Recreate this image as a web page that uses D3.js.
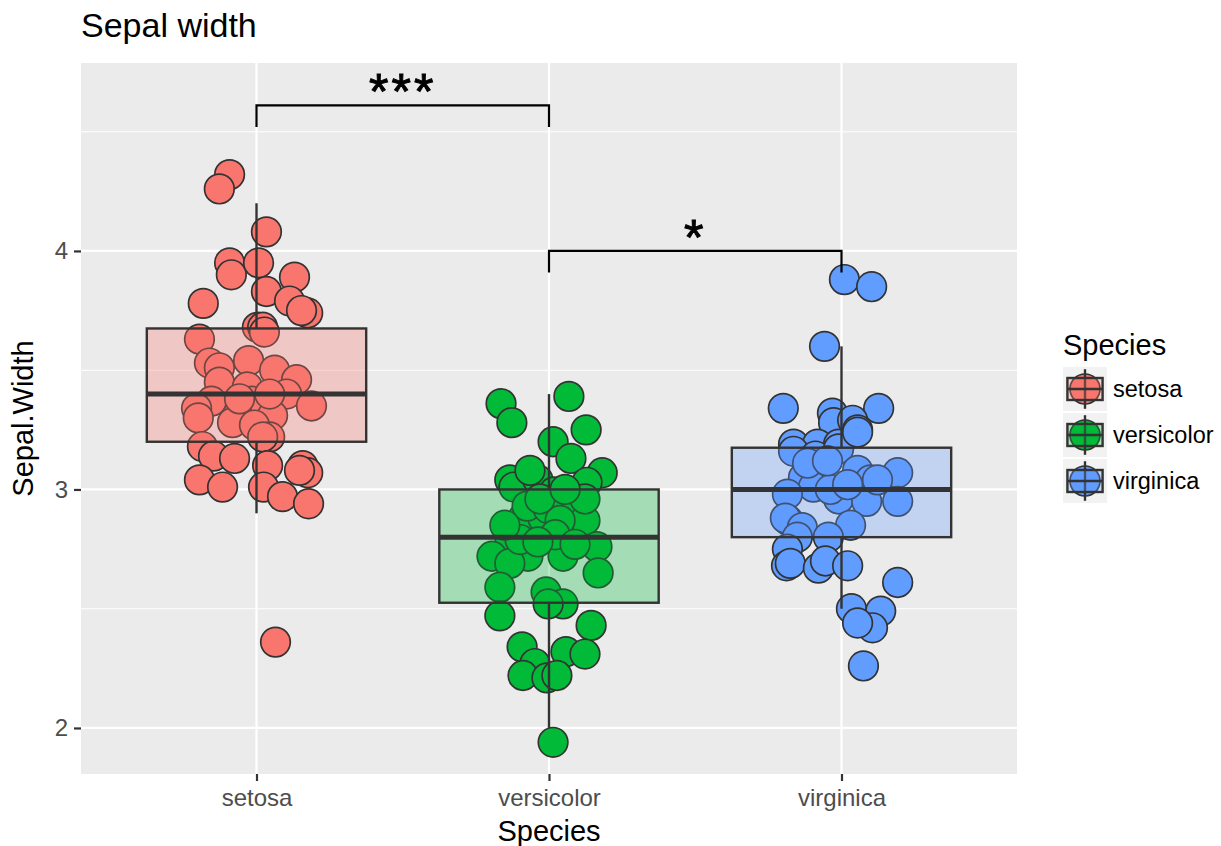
<!DOCTYPE html>
<html>
<head>
<meta charset="utf-8">
<script src="https://cdn.jsdelivr.net/npm/d3@7"></script>
<style>
  body { margin: 0; background: #fff; }
  text { font-family: "Liberation Sans", Arial, sans-serif; }
</style>
</head>
<body>
<svg id="chart" width="1221" height="846"></svg>
<script>
// categories and colours
const species = ["setosa", "versicolor", "virginica"];
const speciesColors = ["#F8766D", "#00BA38", "#619CFF"];

// jittered points: horizontal offset (in category units) and Sepal.Width
const setosaJitter = [-0.092,-0.127,0.034,-0.092,-0.086,0.007,0.130,0.034,0.113,0.175,0.154,-0.182,0.003,0.021,-0.195,0.027,-0.161,-0.127,-0.027,0.062,-0.127,-0.031,0.137,0.103,0.188,-0.154,-0.205,-0.199,-0.014,-0.065,0.055,-0.082,-0.007,0.045,0.021,-0.185,-0.147,-0.075,0.038,0.158,0.175,-0.195,-0.116,0.024,0.089,0.178,0.065,-0.058,0.045,0.147];
const setosaValues = [4.32,4.26,4.08,3.95,3.90,3.95,3.89,3.83,3.79,3.74,3.75,3.78,3.68,3.68,3.63,3.66,3.53,3.51,3.54,3.50,3.45,3.43,3.46,3.40,3.35,3.37,3.34,3.30,3.37,3.31,3.31,3.28,3.27,3.22,3.22,3.18,3.14,3.13,3.10,3.10,3.07,3.04,3.01,3.01,2.97,2.94,2.36,3.38,3.40,3.08];

const versicolorJitter = [-0.164,-0.127,0.068,0.127,0.014,0.075,0.182,-0.134,-0.120,-0.038,0.017,0.130,-0.089,-0.021,0.072,0.123,0.164,-0.134,-0.195,-0.072,0.048,-0.134,0.168,-0.168,-0.010,0.048,-0.003,-0.168,0.144,-0.092,0.058,0.123,-0.048,-0.089,-0.007,0.027,0.014,-0.075,-0.003,0.038,-0.099,0.021,-0.038,-0.151,0.089,0.123,-0.065,-0.031,0.055];
const versicolorValues = [3.36,3.28,3.39,3.25,3.20,3.13,3.07,3.04,3.01,3.04,2.99,3.03,2.88,2.88,2.92,2.87,2.76,2.80,2.72,2.72,2.72,2.69,2.65,2.59,2.57,2.52,2.52,2.47,2.43,2.34,2.32,2.31,2.27,2.22,2.21,2.22,1.94,2.93,2.92,2.87,2.79,2.81,2.78,2.85,2.77,2.96,3.08,2.96,3.00];

const virginicaJitter = [0.010,0.103,-0.058,-0.199,0.127,-0.031,-0.027,0.038,0.055,-0.164,-0.082,-0.010,-0.164,-0.089,-0.010,0.055,0.055,0.099,0.192,-0.130,-0.096,-0.185,-0.010,0.086,0.192,-0.038,-0.182,-0.192,-0.134,0.031,-0.045,-0.151,-0.185,-0.188,-0.175,-0.079,-0.055,0.021,0.192,0.034,0.134,0.106,0.055,0.075,-0.116,-0.048,0.021,0.123];
const virginicaValues = [3.88,3.85,3.60,3.34,3.34,3.32,3.28,3.29,3.25,3.19,3.19,3.19,3.16,3.14,3.17,3.24,3.08,3.04,3.07,3.05,3.01,2.98,2.96,2.95,2.95,3.00,2.87,2.88,2.84,2.85,2.80,2.80,2.75,2.68,2.69,2.67,2.70,2.68,2.61,2.50,2.49,2.42,2.44,2.26,3.11,3.12,3.02,3.04];

// boxplot statistics
const boxLower = [3.2, 2.525, 2.8];
const boxMiddle = [3.4, 2.8, 3.0];
const boxUpper = [3.675, 3.0, 3.175];
const whiskerLow = [2.9, 2.0, 2.5];
const whiskerHigh = [4.2, 3.4, 3.6];

// significance brackets
const bracketFrom = ["setosa", "versicolor"];
const bracketTo = ["versicolor", "virginica"];
const bracketY = [4.61, 4.0];
const bracketLabel = ["***", "*"];
const tipLength = 0.09;

// axis ticks
const yMajor = [2, 3, 4];
const yMinor = [2.5, 3.5, 4.5];

const svg = d3.select("#chart");
const panel = {left: 81, right: 1017, top: 63, bottom: 774};

const x = d3.scalePoint().domain(species).range([panel.left, panel.right]).padding(0.6);
const y = d3.scaleLinear().domain([1.807, 4.788]).range([panel.bottom, panel.top]);
const color = d3.scaleOrdinal().domain(species).range(speciesColors);
const step = x.step();

// panel background + grid
svg.append("rect")
	.attr("x", panel.left).attr("y", panel.top)
	.attr("width", panel.right - panel.left).attr("height", panel.bottom - panel.top)
	.attr("fill", "#ebebeb");

let grid = svg.append("g");
yMinor.forEach(function(v){
	grid.append("line").attr("x1", panel.left).attr("x2", panel.right)
		.attr("y1", y(v)).attr("y2", y(v))
		.attr("stroke", "#fff").attr("stroke-width", 1.1);
});
yMajor.forEach(function(v){
	grid.append("line").attr("x1", panel.left).attr("x2", panel.right)
		.attr("y1", y(v)).attr("y2", y(v))
		.attr("stroke", "#fff").attr("stroke-width", 2.2);
});
species.forEach(function(s){
	grid.append("line").attr("x1", x(s)).attr("x2", x(s))
		.attr("y1", panel.top).attr("y2", panel.bottom)
		.attr("stroke", "#fff").attr("stroke-width", 2.2);
});

// points
let points = [];
[[setosaJitter, setosaValues], [versicolorJitter, versicolorValues], [virginicaJitter, virginicaValues]]
	.forEach(function(pair, i){
		pair[1].forEach(function(v, j){
			points.push({species: species[i], dx: pair[0][j], value: v});
		});
	});

svg.append("g").selectAll("circle")
	.data(points)
	.join("circle")
	.attr("cx", d => x(d.species) + d.dx * step)
	.attr("cy", d => y(d.value))
	.attr("r", 14.8)
	.attr("fill", d => color(d.species))
	.attr("stroke", "#333333")
	.attr("stroke-width", 1.7);

// boxplots on top, translucent fill
let boxes = svg.append("g");
let boxW = step * 0.75;
species.forEach(function(s, i){
	let cx = x(s);
	boxes.append("line").attr("x1", cx).attr("x2", cx)
		.attr("y1", y(boxUpper[i])).attr("y2", y(whiskerHigh[i]))
		.attr("stroke", "#333333").attr("stroke-width", 2.4);
	boxes.append("line").attr("x1", cx).attr("x2", cx)
		.attr("y1", y(boxLower[i])).attr("y2", y(whiskerLow[i]))
		.attr("stroke", "#333333").attr("stroke-width", 2.4);
	boxes.append("rect")
		.attr("x", cx - boxW / 2).attr("y", y(boxUpper[i]))
		.attr("width", boxW).attr("height", y(boxLower[i]) - y(boxUpper[i]))
		.attr("fill", speciesColors[i]).attr("fill-opacity", 0.3)
		.attr("stroke", "#333333").attr("stroke-width", 2.4);
	boxes.append("line").attr("x1", cx - boxW / 2).attr("x2", cx + boxW / 2)
		.attr("y1", y(boxMiddle[i])).attr("y2", y(boxMiddle[i]))
		.attr("stroke", "#333333").attr("stroke-width", 5);
});

// brackets
let sig = svg.append("g");
bracketLabel.forEach(function(lab, i){
	let x1 = x(bracketFrom[i]), x2 = x(bracketTo[i]);
	let path = d3.path();
	path.moveTo(x1, y(bracketY[i] - tipLength));
	path.lineTo(x1, y(bracketY[i]));
	path.lineTo(x2, y(bracketY[i]));
	path.lineTo(x2, y(bracketY[i] - tipLength));
	sig.append("path").attr("d", path.toString())
		.attr("fill", "none").attr("stroke", "#000").attr("stroke-width", 2.2);
	sig.append("text").attr("x", (x1 + x2) / 2).attr("y", y(bracketY[i]) + 4)
		.attr("text-anchor", "middle").style("font-size", "50px")
		.style("letter-spacing", "3px")
		.attr("fill", "#000").attr("stroke", "#000").attr("stroke-width", 1)
		.text(lab);
});

// axes
let yAxis = svg.append("g").attr("transform", "translate(" + panel.left + ",0)")
	.call(d3.axisLeft(y).tickValues(yMajor).tickSize(7).tickPadding(6).tickFormat(d3.format("d")));
yAxis.select(".domain").remove();
yAxis.selectAll(".tick line").attr("stroke", "#333333").attr("stroke-width", 2.2);
yAxis.selectAll(".tick text").style("font-size", "24px").attr("fill", "#4d4d4d");

let xAxis = svg.append("g").attr("transform", "translate(0," + panel.bottom + ")")
	.call(d3.axisBottom(x).tickSize(7).tickPadding(8));
xAxis.select(".domain").remove();
xAxis.selectAll(".tick line").attr("stroke", "#333333").attr("stroke-width", 2.2);
xAxis.selectAll(".tick text").style("font-size", "24px").attr("fill", "#4d4d4d");

// titles
svg.append("text").attr("x", panel.left).attr("y", 37)
	.style("font-size", "34px").attr("fill", "#000").text("Sepal width");
svg.append("text").attr("x", (panel.left + panel.right) / 2).attr("y", 841)
	.attr("text-anchor", "middle").style("font-size", "29px").attr("fill", "#000").text("Species");
svg.append("text").attr("transform", "translate(33," + (panel.top + panel.bottom) / 2 + ") rotate(-90)")
	.attr("text-anchor", "middle").style("font-size", "29px").attr("fill", "#000").text("Sepal.Width");

// legend
let legend = svg.append("g").attr("transform", "translate(1063,0)");
legend.append("text").attr("x", 0).attr("y", 355)
	.style("font-size", "29px").attr("fill", "#000").text("Species");
let keySize = 44;
species.forEach(function(s, i){
	let ky = 367 + i * 46;
	let k = legend.append("g").attr("transform", "translate(0," + ky + ")");
	k.append("rect").attr("width", keySize).attr("height", keySize).attr("fill", "#f2f2f2");
	k.append("circle").attr("cx", keySize / 2).attr("cy", keySize / 2).attr("r", 15)
		.attr("fill", speciesColors[i]).attr("stroke", "#333333").attr("stroke-width", 1.7);
	k.append("line").attr("x1", keySize / 2).attr("x2", keySize / 2)
		.attr("y1", keySize * 0.05).attr("y2", keySize * 0.95)
		.attr("stroke", "#333333").attr("stroke-width", 2.4);
	k.append("rect").attr("x", keySize * 0.1).attr("y", keySize * 0.25)
		.attr("width", keySize * 0.8).attr("height", keySize * 0.5)
		.attr("fill", speciesColors[i]).attr("fill-opacity", 0.3)
		.attr("stroke", "#333333").attr("stroke-width", 2.4);
	k.append("line").attr("x1", keySize * 0.1).attr("x2", keySize * 0.9)
		.attr("y1", keySize / 2).attr("y2", keySize / 2)
		.attr("stroke", "#333333").attr("stroke-width", 2.4);
	legend.append("text").attr("x", 50).attr("y", ky + keySize / 2).attr("dy", "0.35em")
		.style("font-size", "23.5px").attr("fill", "#000").text(s);
});
</script>
</body>
</html>
